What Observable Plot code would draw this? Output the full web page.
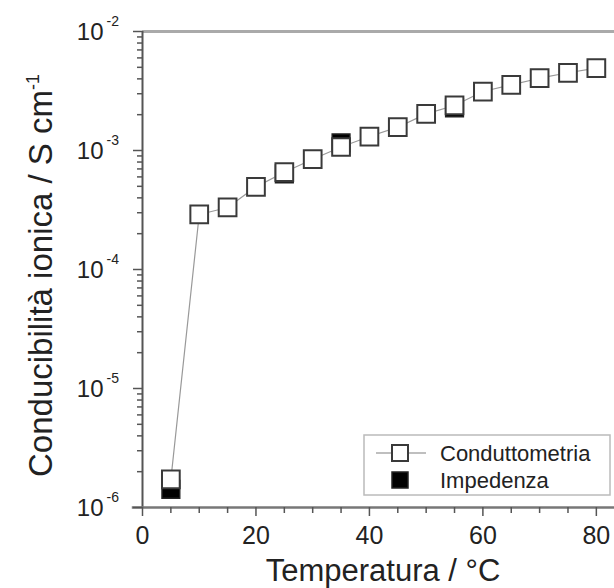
<!DOCTYPE html>
<html>
<head>
<meta charset="utf-8">
<script src="https://cdn.jsdelivr.net/npm/d3@7"></script>
<script src="https://cdn.jsdelivr.net/npm/@observablehq/plot@0.6"></script>
<style>
  html, body { margin: 0; padding: 0; background: #fff; }
  svg { font-family: "Liberation Sans", Arial, sans-serif; }
</style>
</head>
<body>
<div id="chart"></div>
<script>
// Conduttometria (open squares, connected)
const condT = [5, 10, 15, 20, 25, 30, 35, 40, 45, 50, 55, 60, 65, 70, 75, 80];
const condS = [1.72e-6, 2.9e-4, 3.32e-4, 4.95e-4, 6.57e-4, 8.45e-4, 1.07e-3, 1.31e-3,
               1.57e-3, 2.03e-3, 2.39e-3, 3.13e-3, 3.56e-3, 4.05e-3, 4.50e-3, 4.92e-3];
// Impedenza (filled squares, visible where not hidden)
const impT = [5, 25, 35, 55];
const impS = [1.42e-6, 6.35e-4, 1.16e-3, 2.28e-3];

const xMajor = [0, 20, 40, 60, 80];
const xMinor = [5, 10, 15, 25, 30, 35, 45, 50, 55, 65, 70, 75];
const yMajor = [1e-6, 1e-5, 1e-4, 1e-3, 1e-2];
const yExp = ["-6", "-5", "-4", "-3", "-2"];

const xLabel = "Temperatura / °C";
const yLabel = "Conducibilità ionica / S cm";
const yLabelSup = "-1";
const legendNames = ["Conduttometria", "Impedenza"];

const cond = condT.map((t, i) => ({t, s: condS[i]}));
const imp = impT.map((t, i) => ({t, s: impS[i]}));
const yMinor = [];
for (let e = -6; e < -2; e++) for (let m = 2; m <= 9; m++) yMinor.push(m * Math.pow(10, e));

const axisColor = "#555";
const font = "'Liberation Sans', Arial, sans-serif";

const chart = Plot.plot({
  width: 614,
  height: 588,
  marginLeft: 142,
  marginRight: 0,
  marginTop: 31,
  marginBottom: 81,
  style: {fontFamily: font, background: "#fff", overflow: "visible"},
  x: {domain: [0, 83.2], axis: null},
  y: {type: "log", domain: [1e-6, 1e-2], axis: null},
  marks: [
    // top frame line
    Plot.ruleY([1e-2], {stroke: "#aaa", strokeWidth: 3}),
    // axes lines
    Plot.ruleX([0], {stroke: axisColor, strokeWidth: 2}),
    Plot.ruleY([1e-6], {x1: -1.8, x2: 83.2, stroke: "#777", strokeWidth: 2.5}),
    // y ticks
    Plot.axisY({ticks: yMinor, tickSize: 5, text: null, stroke: axisColor, strokeWidth: 1.5, label: null}),
    Plot.axisY({ticks: yMajor, tickSize: 9, text: null, stroke: axisColor, strokeWidth: 1.5, label: null}),
    // y tick labels: "10" with superscript exponent
    Plot.text(yMajor, {x: 0, y: d => d, text: () => "10", dx: -39, dy: 1, textAnchor: "end", lineAnchor: "middle", fontSize: 24, fill: "#222"}),
    Plot.text(yMajor, {x: 0, y: d => d, text: (d, i) => yExp[i], dx: -36, dy: -10, textAnchor: "start", lineAnchor: "middle", fontSize: 14, fill: "#222"}),
    // x ticks
    Plot.axisX({ticks: xMinor, tickSize: 6, text: null, stroke: axisColor, strokeWidth: 1.5, label: null}),
    Plot.axisX({ticks: xMajor, tickSize: 9, tickPadding: 10, fontSize: 25, fill: "#222", stroke: axisColor, strokeWidth: 1.5, label: null}),
    // impedance filled squares (behind)
    Plot.dot(imp, {x: "t", y: "s", symbol: "square", r: 10, fill: "#000", stroke: "#222", strokeWidth: 1.5}),
    // conductometry line and open squares
    Plot.line(cond, {x: "t", y: "s", stroke: "#999", strokeWidth: 1.2}),
    Plot.dot(cond, {x: "t", y: "s", symbol: "square", r: 10, fill: "#fff", stroke: "#3a3a3a", strokeWidth: 2})
  ]
});

document.getElementById("chart").appendChild(chart);
const svg = d3.select(chart);

// axis titles
svg.append("text")
  .attr("x", 383).attr("y", 581)
  .attr("text-anchor", "middle")
  .attr("font-size", 31)
  .attr("fill", "#222")
  .text(xLabel);

const yt = svg.append("text")
  .attr("transform", "translate(52,477) rotate(-90)")
  .attr("text-anchor", "start")
  .attr("font-size", 33)
  .attr("fill", "#222")
  .text(yLabel);
yt.append("tspan").attr("dy", "-0.75em").attr("font-size", 18).text(yLabelSup);

// legend
const lg = svg.append("g");
lg.append("rect").attr("x", 364).attr("y", 435).attr("width", 246).attr("height", 60)
  .attr("fill", "#fff").attr("stroke", "#bbb").attr("stroke-width", 1.5);
lg.append("line").attr("x1", 376).attr("x2", 426).attr("y1", 453).attr("y2", 453)
  .attr("stroke", "#aaa").attr("stroke-width", 1.5);
lg.append("rect").attr("x", 392).attr("y", 445).attr("width", 16).attr("height", 16)
  .attr("fill", "#fff").attr("stroke", "#3a3a3a").attr("stroke-width", 2);
lg.append("rect").attr("x", 392).attr("y", 472).attr("width", 16).attr("height", 16)
  .attr("fill", "#000").attr("stroke", "#222").attr("stroke-width", 1.5);
lg.append("text").attr("x", 440).attr("y", 453).attr("dy", "0.36em").attr("font-size", 22)
  .attr("text-anchor", "start").attr("fill", "#222").text(legendNames[0]);
lg.append("text").attr("x", 440).attr("y", 480).attr("dy", "0.36em").attr("font-size", 22)
  .attr("text-anchor", "start").attr("fill", "#222").text(legendNames[1]);
</script>
</body>
</html>
